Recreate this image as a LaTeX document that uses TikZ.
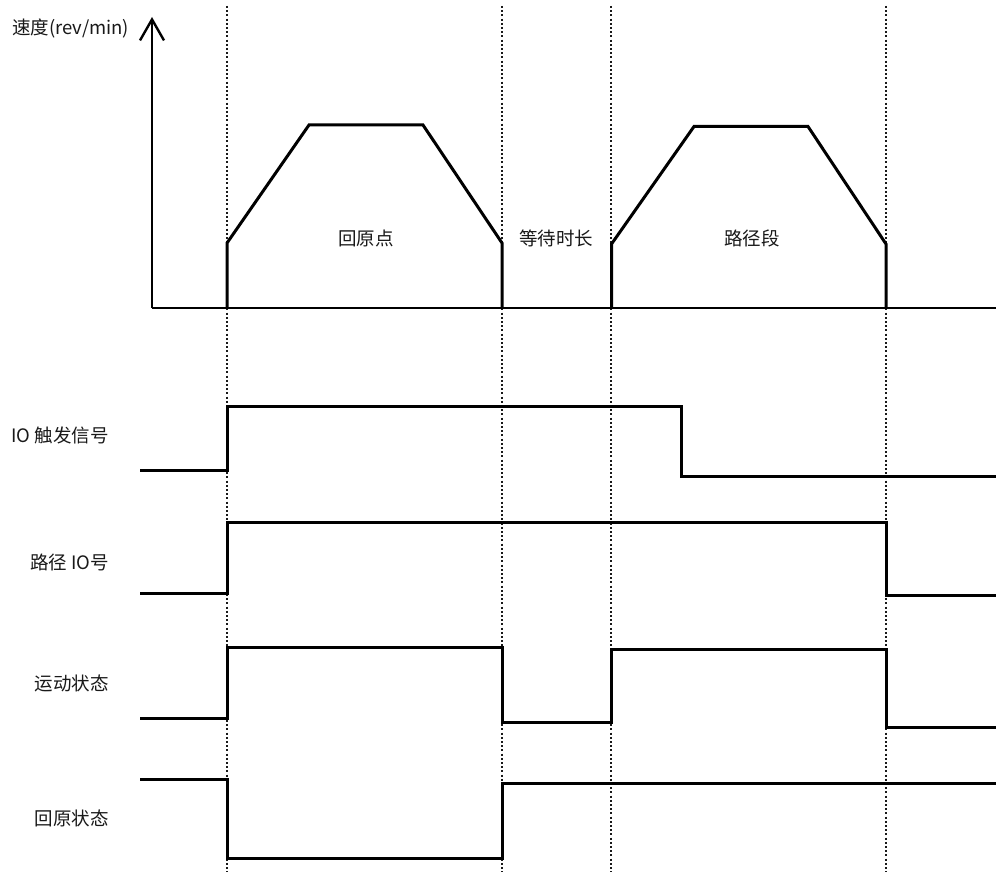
\documentclass[tikz,border=0pt]{standalone}
\usepackage{fontspec}
\newfontfamily\cjk{Noto Sans CJK SC}
\usetikzlibrary{arrows.meta}
\tikzset{
  guide/.style={line width=2pt, black!90, dash pattern=on 2pt off 2.2pt},
  wave/.style={line width=3pt, black, line join=miter},
  axisline/.style={line width=2.6pt, black},
  lbl/.style={font=\cjk\fontsize{18.5}{21}\selectfont, text=black!90, inner sep=0pt},
}
\begin{document}
\begin{tikzpicture}[x=1pt, y=-1pt]
\useasboundingbox[fill=white] (0,0) rectangle (996,872);
% guide lines
\foreach \gx/\gn in {227/g1, 501.7/g2, 610.7/g3, 885.7/g4}{
  \coordinate (\gn t) at (\gx,6);
  \coordinate (\gn b) at (\gx,872);
  \draw[guide] (\gn t) -- (\gn b);
}
% axes
\coordinate (origin) at (152,308);
\coordinate (ytip) at (152,17);
\coordinate (xend) at (996,308);
\draw[axisline, -{Straight Barb[length=21pt, width=24pt, line width=2.4pt]}] (origin) -- (ytip);
\draw[axisline] (origin) -- (xend);
\node[lbl, anchor=west] (ylabel) at (12,28) {速度(rev/min)};
% speed profiles
\draw[wave] (227,308) -- (227,243) -- (309,125) -- (423,125) -- (502,243) -- (502,308);
\draw[wave] (611.5,308) -- (611.5,244) -- (694,126.5) -- (808,126.5) -- (886,244) -- (886,308);
\node[lbl] (home) at (366,238) {回原点};
\node[lbl] (wait) at (556,238) {等待时长};
\node[lbl] (path) at (752,238) {路径段};
% signals
\node[lbl, anchor=east] (s1) at (109,435) {IO 触发信号};
\node[lbl, anchor=east] (s2) at (109,562) {路径 IO号};
\node[lbl, anchor=east] (s3) at (109,683) {运动状态};
\node[lbl, anchor=east] (s4) at (109,818) {回原状态};
\draw[wave] (140,470) -- (227,470) -- (227,406) -- (681,406) -- (681,476) -- (996,476);
\draw[wave] (140,593) -- (227,593) -- (227,522) -- (886,522) -- (886,595) -- (996,595);
\draw[wave] (140,718) -- (227,718) -- (227,647) -- (502,647) -- (502,722) -- (611,722) -- (611,649) -- (886,649) -- (886,727) -- (996,727);
\draw[wave] (140,779) -- (227,779) -- (227,858) -- (502,858) -- (502,783) -- (996,783);
\end{tikzpicture}
\end{document}
